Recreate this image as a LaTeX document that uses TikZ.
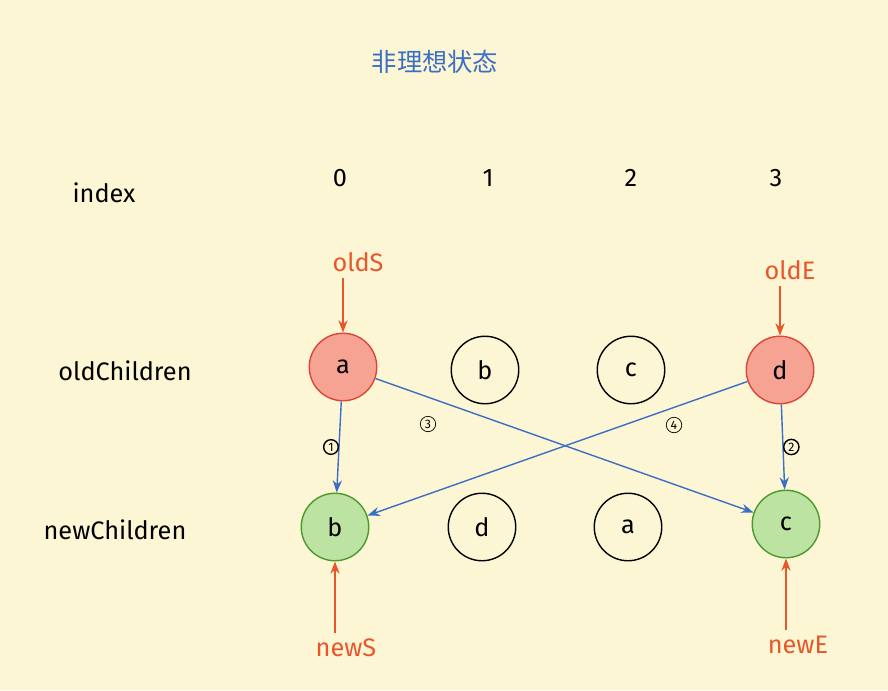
\documentclass[tikz,border=0pt]{standalone}
\usepackage{fontspec}
\setmainfont{Fira Sans}
\newfontfamily\cjk{Noto Sans CJK SC}
\usetikzlibrary{arrows.meta}
\definecolor{paper}{HTML}{FDF6D5}
\definecolor{oldred}{HTML}{F6A394}
\definecolor{oldline}{HTML}{D9473A}
\definecolor{newgreen}{HTML}{BCE3A2}
\definecolor{newline}{HTML}{4A9A2C}
\definecolor{pointer}{HTML}{E8562A}
\definecolor{move}{HTML}{3A6FC4}
\begin{document}
\begin{tikzpicture}[x=0.02cm,y=-0.02cm,
  vnode/.style={circle,draw=black,thick,minimum size=1.35cm,font=\Large},
  oldvnode/.style={vnode,fill=oldred,draw=oldline},
  newvnode/.style={vnode,fill=newgreen,draw=newline},
  rowlabel/.style={font=\Large},
  ptr/.style={text=pointer,font=\Large},
  step label/.style={circle,draw,inner sep=1pt,font=\scriptsize}]
		\fill[paper] (0,0) rectangle (888,690);
		\useasboundingbox (0,0) rectangle (888,690);

		\node[text=move,font=\cjk\Large] (title) at (435,62) {非理想状态};

		\node[rowlabel] (index) at (104,193) {index};
		\node[rowlabel] (oldrow) at (125,371) {oldChildren};
		\node[rowlabel] (newrow) at (115,530) {newChildren};

		\node[rowlabel] (i0) at (340,178) {0};
		\node[rowlabel] (i1) at (488,178) {1};
		\node[rowlabel] (i2) at (631,178) {2};
		\node[rowlabel] (i3) at (776,178) {3};

		\node[oldvnode] (oa) at (343,367) {a};
		\node[vnode] (ob) at (485,370) {b};
		\node[vnode] (oc) at (631,370) {c};
		\node[oldvnode] (od) at (780,370) {d};

		\node[newvnode] (nb) at (335,527) {b};
		\node[vnode] (nd) at (482,527) {d};
		\node[vnode] (na) at (628,527) {a};
		\node[newvnode] (nc) at (786,524) {c};

		\node[ptr] (oldS) at (358,262) {oldS};
		\node[ptr] (oldE) at (790,270) {oldE};
		\node[ptr] (newS) at (346,648) {newS};
		\node[ptr] (newE) at (798,645) {newE};

		\begin{scope}[>={Stealth[length=7pt]}]
			\draw[->,pointer,thick] (oldS.south -| oa) -- (oa);
			\draw[->,pointer,thick] (oldE.south -| od) -- (od);
			\draw[->,pointer,thick] (newS.north -| nb) -- (nb);
			\draw[->,pointer,thick] (newE.north -| nc) -- (nc);

			\draw[->,move,thick] (oa) -- node[step label,left,black] {1} (nb);
			\draw[->,move,thick] (od) -- node[step label,right,black] {2} (nc);
			\draw[->,move,thick] (oa) -- (nc);
			\draw[->,move,thick] (od) -- (nb);
		\end{scope}
		\node[step label] (s3) at (428,424) {3};
		\node[step label] (s4) at (674,425) {4};
\end{tikzpicture}
\end{document}
